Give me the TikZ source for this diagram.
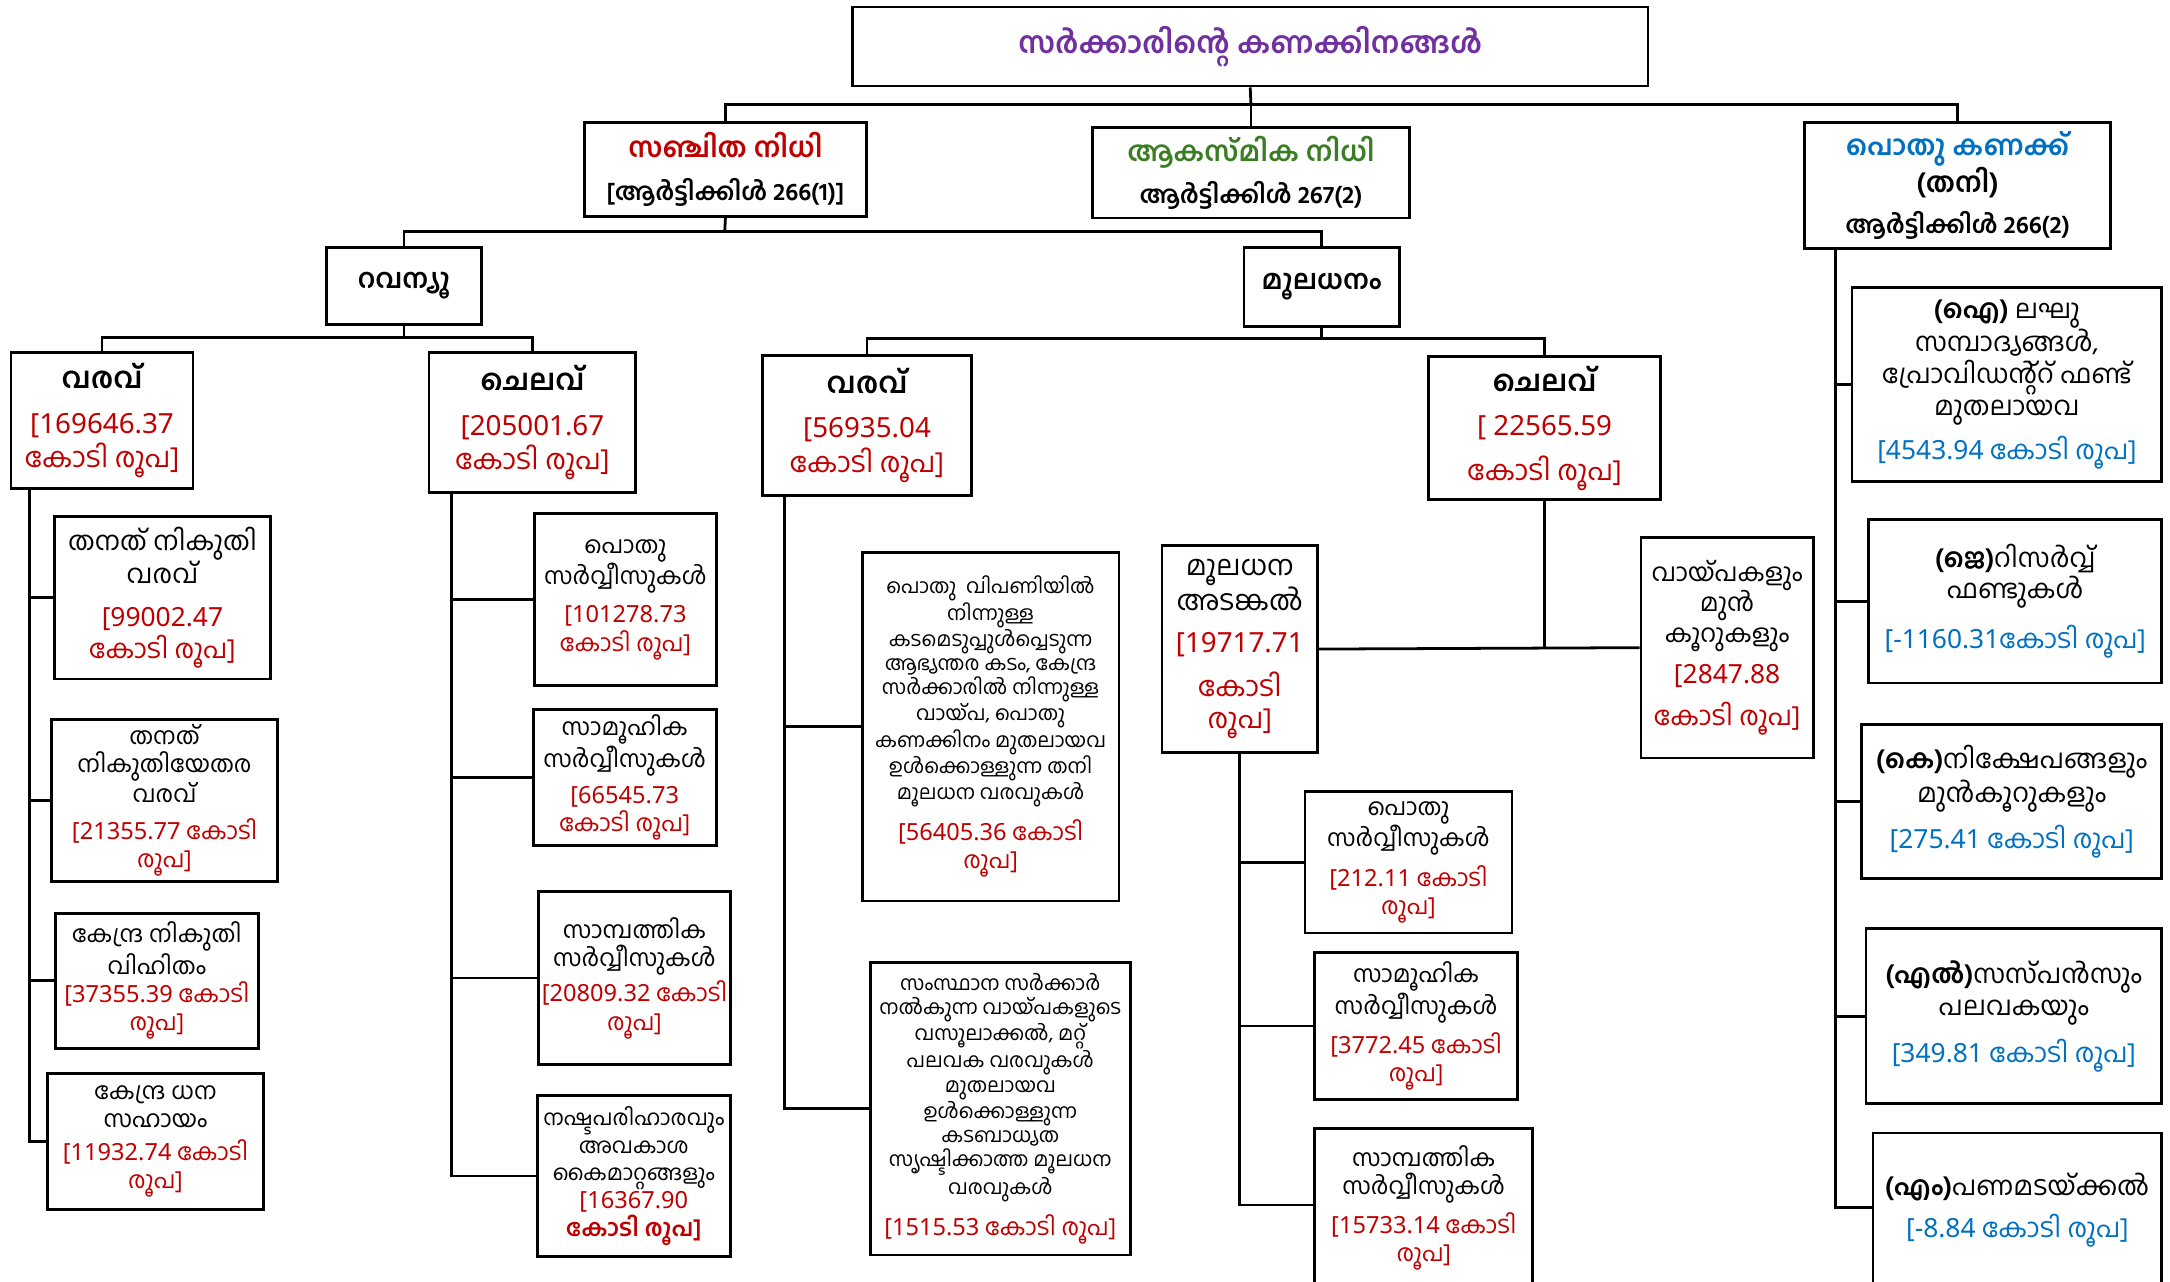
\documentclass[tikz,border=0pt]{standalone}
\usepackage{fontspec}
\setmainfont[Script=Malayalam]{Hind Kochi}
\newfontfamily\latf{Noto Sans}
\definecolor{mlred}{HTML}{C00000}
\definecolor{mlblue}{HTML}{0070C0}
\definecolor{mlgreen}{HTML}{3B7D23}
\definecolor{mlpurple}{HTML}{7030A0}
\newcommand\fsz[2]{\fontsize{#1}{#2}\selectfont}
\newcommand\nb[1]{{\latf #1}}
\newcommand\redtxt[1]{{\color{mlred}#1}}
\newcommand\bluetxt[1]{{\color{mlblue}#1}}
\begin{document}
\begin{tikzpicture}[x=1pt,y=-1pt,
  box/.style={draw, line width=2pt, align=center, inner sep=1pt},
  conn/.style={line width=2pt}]
\useasboundingbox (0,0) rectangle (1563,923);
\clip (0,0) rectangle (1563,923);
% ---------- level 0 ----------
\node[box, minimum width=573pt, minimum height=57pt, font=\fsz{21.5}{25}\bfseries, text=mlpurple] (top) at (900.5,33.5) {സർക്കാരിന്റെ കണക്കിനങ്ങൾ};
% ---------- level 1 ----------
\node[box, minimum width=203pt, minimum height=68pt, font=\fsz{17.5}{31}\bfseries] (san) at (522.5,122) {{\fsz{20}{31}\color{mlred}സഞ്ചിത നിധി}\\{[ആർട്ടിക്കിൾ 266(1)]}};
\node[box, minimum width=228pt, minimum height=65pt, font=\fsz{17.5}{30}\bfseries] (aka) at (901,124.5) {{\fsz{20}{30}\color{mlgreen}ആകസ്മിക നിധി}\\ആർട്ടിക്കിൾ 267(2)};
\node[box, minimum width=220pt, minimum height=91pt, font=\fsz{17.5}{23}\bfseries] (pot) at (1410,133.5) {{\fsz{20}{23}\color{mlblue}പൊതു കണക്ക്}\\{\fsz{20}{23}(തനി)}\\[6pt]ആർട്ടിക്കിൾ 266(2)};
% ---------- level 2 ----------
\node[box, minimum width=112pt, minimum height=56pt, font=\fsz{19.5}{23}\bfseries] (rev) at (291,206) {റവന്യൂ};
\node[box, minimum width=112pt, minimum height=57pt, font=\fsz{19.5}{23}\bfseries] (cap) at (952,206.5) {മൂലധനം};
% ---------- level 3 ----------
\node[box, minimum width=131pt, minimum height=98pt, font=\fsz{20}{25}] (rvv) at (73.5,303) {{\fsz{21}{25}\bfseries വരവ്}\\[7pt]\redtxt{\nb{[169646.37}}\\\redtxt{കോടി രൂപ]}};
\node[box, minimum width=149pt, minimum height=101pt, font=\fsz{20}{25}] (rvc) at (383.5,304.5) {{\fsz{21}{25}\bfseries ചെലവ്}\\[7pt]\redtxt{\nb{[205001.67}}\\\redtxt{കോടി രൂപ]}};
\node[box, minimum width=151pt, minimum height=101pt, font=\fsz{20}{25}] (cpv) at (624.5,306.5) {{\fsz{21}{25}\bfseries വരവ്}\\[7pt]\redtxt{\nb{[56935.04}}\\\redtxt{കോടി രൂപ]}};
\node[box, minimum width=167pt, minimum height=103pt, font=\fsz{20}{32}] (cpc) at (1112.5,308.5) {{\fsz{21}{32}\bfseries ചെലവ്}\\\redtxt{\nb{[ 22565.59}}\\\redtxt{കോടി രൂപ]}};
% ---------- revenue receipts ----------
\node[box, minimum width=156pt, minimum height=117pt, font=\fsz{19}{23}] (r1) at (117,430.5) {തനത് നികുതി\\വരവ്\\[8pt]\redtxt{\nb{[99002.47}}\\\redtxt{കോടി രൂപ]}};
\node[box, minimum width=163pt, minimum height=117pt, font=\fsz{17}{20}] (r2) at (118.5,576.5) {തനത്\\നികുതിയേതര\\വരവ്\\[7pt]\redtxt{\nb{[21355.77} കോടി}\\\redtxt{രൂപ]}};
\node[box, minimum width=146pt, minimum height=97pt, font=\fsz{17}{20.5}] (r3) at (113,706.5) {കേന്ദ്ര നികുതി\\വിഹിതം\\\redtxt{\nb{[37355.39} കോടി}\\\redtxt{രൂപ]}};
\node[box, minimum width=156pt, minimum height=98pt, font=\fsz{17}{20.5}] (r4) at (112,822) {കേന്ദ്ര ധന\\സഹായം\\[3pt]\redtxt{\nb{[11932.74} കോടി}\\\redtxt{രൂപ]}};
% ---------- revenue expenditure ----------
\node[box, minimum width=131pt, minimum height=124pt, font=\fsz{17}{20.5}] (e1) at (450.5,432) {പൊതു\\സർവ്വീസുകൾ\\[7pt]\redtxt{\nb{[101278.73}}\\\redtxt{കോടി രൂപ]}};
\node[box, minimum width=132pt, minimum height=98pt, font=\fsz{17}{20}] (e2) at (450,560) {സാമൂഹിക\\സർവ്വീസുകൾ\\[6pt]\redtxt{\nb{[66545.73}}\\\redtxt{കോടി രൂപ]}};
\node[box, minimum width=138pt, minimum height=125pt, font=\fsz{17}{20.5}] (e3) at (457,704.5) {സാമ്പത്തിക\\സർവ്വീസുകൾ\\[3pt]\redtxt{\nb{[20809.32} കോടി}\\\redtxt{രൂപ]}};
\node[box, minimum width=139pt, minimum height=116pt, font=\fsz{15.5}{20}] (e4) at (456.5,847) {നഷ്ടപരിഹാരവും\\അവകാശ\\കൈമാറ്റങ്ങളും\\\redtxt{\fsz{17}{20}\nb{[16367.90}}\\\redtxt{\fsz{17}{20}\bfseries കോടി രൂപ]}};
% ---------- capital receipts ----------
\node[box, minimum width=185pt, minimum height=251pt, font=\fsz{14.5}{17.3}] (cr1) at (713.5,523.5) {പൊതു \ വിപണിയിൽ\\നിന്നുള്ള\\കടമെടുപ്പുൾപ്പെടുന്ന\\ആഭ്യന്തര കടം, കേന്ദ്ര\\സർക്കാരിൽ നിന്നുള്ള\\വായ്പ, പൊതു\\കണക്കിനം മുതലായവ\\ഉൾക്കൊള്ളുന്ന തനി\\മൂലധന വരവുകൾ\\[8pt]\redtxt{\fsz{17}{21}\nb{[56405.36} കോടി}\\[3pt]\redtxt{\fsz{17}{21}രൂപ]}};
\node[box, minimum width=187pt, minimum height=211pt, font=\fsz{14.5}{17.5}] (cr2) at (720.5,798.5) {സംസ്ഥാന സർക്കാർ\\നൽകുന്ന വായ്പകളുടെ\\വസൂലാക്കൽ, മറ്റ്\\പലവക വരവുകൾ\\മുതലായവ\\ഉൾക്കൊള്ളുന്ന\\കടബാധ്യത\\സൃഷ്ടിക്കാത്ത മൂലധന\\വരവുകൾ\\[8pt]\redtxt{\fsz{17}{21}\nb{[1515.53} കോടി രൂപ]}};
% ---------- capital expenditure ----------
\node[box, minimum width=112pt, minimum height=149pt, font=\fsz{20}{23}] (ad) at (893,467.5) {മൂലധന\\അടങ്കൽ\\[7pt]\redtxt{\nb{[19717.71}}\\[9pt]\redtxt{കോടി}\\\redtxt{രൂപ]}};
\node[box, minimum width=124pt, minimum height=159pt, font=\fsz{18}{22}] (vp) at (1244,466.5) {വായ്പകളും\\മുൻ\\കൂറുകളും\\[8pt]\redtxt{\fsz{19}{22}\nb{[2847.88}}\\[8pt]\redtxt{\fsz{19}{22}കോടി രൂപ]}};
\node[box, minimum width=149pt, minimum height=102pt, font=\fsz{17}{20}] (ce1) at (1014.5,621) {പൊതു\\സർവ്വീസുകൾ\\[6pt]\redtxt{\nb{[212.11} കോടി}\\\redtxt{രൂപ]}};
\node[box, minimum width=146pt, minimum height=106pt, font=\fsz{17}{20}] (ce2) at (1020,739) {സാമൂഹിക\\സർവ്വീസുകൾ\\[6pt]\redtxt{\nb{[3772.45} കോടി}\\\redtxt{രൂപ]}};
\node[box, minimum width=157pt, minimum height=114pt, font=\fsz{17}{20}] (ce3) at (1025.5,870) {സാമ്പത്തിക\\സർവ്വീസുകൾ\\[6pt]\redtxt{\nb{[15733.14} കോടി}\\\redtxt{രൂപ]}};
% ---------- public account ----------
\node[box, minimum width=223pt, minimum height=140pt, font=\fsz{19}{23}] (p1) at (1445.5,277) {\textbf{(ഐ)} ലഘു\\സമ്പാദ്യങ്ങൾ,\\പ്രോവിഡന്റ്റ് ഫണ്ട്\\മുതലായവ\\[7pt]\bluetxt{\nb{[4543.94} കോടി രൂപ]}};
\node[box, minimum width=211pt, minimum height=118pt, font=\fsz{19}{22}] (p2) at (1451.5,433) {\textbf{(ജെ)}റിസർവ്വ്\\ഫണ്ടുകൾ\\[11pt]\bluetxt{\nb{[-1160.31}കോടി രൂപ]}};
\node[box, minimum width=216pt, minimum height=111pt, font=\fsz{19}{23}] (p3) at (1449,577.5) {\textbf{(കെ)}നിക്ഷേപങ്ങളും\\മുൻകൂറുകളും\\[8pt]\bluetxt{\nb{[275.41} കോടി രൂപ]}};
\node[box, minimum width=213pt, minimum height=126pt, font=\fsz{19}{23}] (p4) at (1450.5,732) {\textbf{(എൽ)}സസ്പൻസും\\പലവകയും\\[9pt]\bluetxt{\nb{[349.81} കോടി രൂപ]}};
\node[box, minimum width=208pt, minimum height=111pt, font=\fsz{19}{30}] (p5) at (1453,871.5) {\textbf{(എം)}പണമടയ്ക്കൽ\\\bluetxt{\nb{[-8.84} കോടി രൂപ]}};
% ---------- junction coordinates ----------
\coordinate (j0) at (901,75);
\coordinate (j1) at (522,167);
\coordinate (j2) at (291,243);
\coordinate (j3) at (952,244);
\coordinate (tA) at (21,0);
\coordinate (tB) at (325,0);
\coordinate (tC) at (565,0);
\coordinate (tD) at (1322,0);
\coordinate (endce3) at (893,868);
\coordinate (endp5) at (1322,870);
% ---------- connectors ----------
\draw[conn] (top.south) -- (j0);
\draw[conn] (san.north) |- (j0) -| (pot.north);
\draw[conn] (j0) -- (aka.north);
\draw[conn] (san.south) -- (j1);
\draw[conn] (rev.north) |- (j1) -| (cap.north);
\draw[conn] (rev.south) -- (j2);
\draw[conn] (rvv.north) |- (j2) -| (rvc.north);
\draw[conn] (cap.south) -- (j3);
\draw[conn] (cpv.north) |- (j3) -| (cpc.north);
% revenue receipts
\draw[conn] (tA |- rvv.south) -- (tA |- r4.west) -- (r4.west);
\draw[conn] (tA |- r1.west) -- (r1.west);
\draw[conn] (tA |- r2.west) -- (r2.west);
\draw[conn] (tA |- r3.west) -- (r3.west);
% revenue expenditure
\draw[conn] (tB |- rvc.south) -- (tB |- e4.west) -- (e4.west);
\draw[conn] (tB |- e1.west) -- (e1.west);
\draw[conn] (tB |- e2.west) -- (e2.west);
\draw[conn] (tB |- e3.west) -- (e3.west);
% capital receipts
\draw[conn] (tC |- cpv.south) -- (tC |- cr2.west) -- (cr2.west);
\draw[conn] (tC |- cr1.west) -- (cr1.west);
% capital expenditure
\draw[conn] (ad.east) -- (vp.west);
\draw[conn] (cpc.south) -- (cpc.south |- ad.east);
\draw[conn] (ad.south) -- (endce3) -- (ce3.west |- endce3);
\draw[conn] (ad.south |- ce1.west) -- (ce1.west);
\draw[conn] (ad.south |- ce2.west) -- (ce2.west);
% public account
\draw[conn] (tD |- pot.south) -- (endp5) -- (p5.west |- endp5);
\draw[conn] (tD |- p1.west) -- (p1.west);
\draw[conn] (tD |- p2.west) -- (p2.west);
\draw[conn] (tD |- p3.west) -- (p3.west);
\draw[conn] (tD |- p4.west) -- (p4.west);
\end{tikzpicture}
\end{document}
